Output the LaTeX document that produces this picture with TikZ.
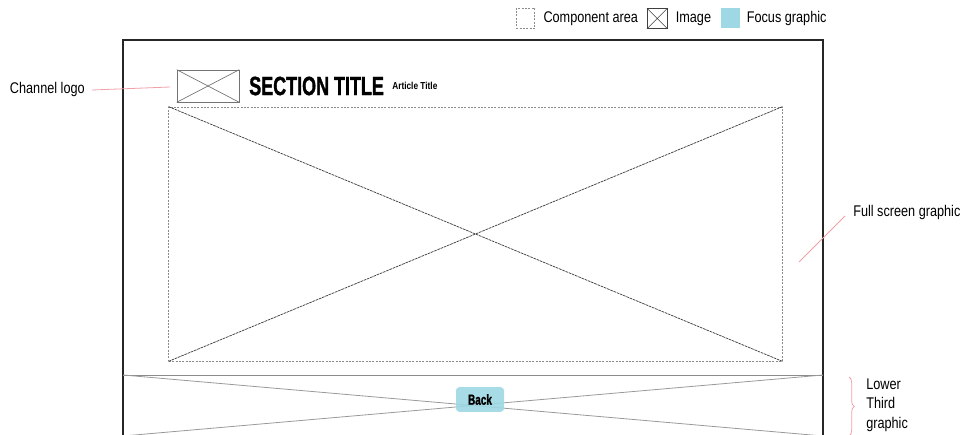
\documentclass[tikz,border=0pt]{standalone}
\usepackage{fontspec}
\setmainfont{Liberation Sans}
\newfontfamily\condfont{Liberation Sans}[FakeStretch=0.82]
\newfontfamily\heavyfont{Liberation Sans}[FakeStretch=0.68, BoldFeatures={FakeBold=1.2}]
\usetikzlibrary{positioning,calc,decorations.pathreplacing}
\definecolor{focuscyan}{HTML}{9DD8E4}
\definecolor{calloutred}{HTML}{F0A0A8}

\begin{document}
\begin{tikzpicture}[
    x=0.75pt, y=-0.75pt,
    lbl/.style={font=\condfont\fontsize{11.6}{13}\selectfont, inner sep=0pt, anchor=west},
    imgbox/.style={draw=black!55, line width=0.5pt, inner sep=0pt},
    comparea/.style={draw=black!45, dash pattern=on 1.5pt off 1pt, line width=0.6pt, inner sep=0pt},
    callout/.style={draw=calloutred, line width=0.6pt},
    focus/.style={fill=focuscyan, rounded corners=2.5pt, inner sep=0pt, font=\heavyfont\bfseries\fontsize{11}{12}\selectfont}
]
    \useasboundingbox (0,0) rectangle (964,435);

    % legend
    \node[comparea, minimum width=14pt, minimum height=15pt] (leg_comp) at (525.5,18.5) {};
    \node[lbl, right=6pt of leg_comp] (leg_comp_txt) {Component area};
    \node[imgbox, draw=black!75, minimum width=15pt, minimum height=15pt, right=6.5pt of leg_comp_txt] (leg_img) {};
    \draw[black!75, line width=0.5pt] (leg_img.north west) -- (leg_img.south east) (leg_img.south west) -- (leg_img.north east);
    \node[lbl, right=6pt of leg_img] (leg_img_txt) {Image};
    \node[fill=focuscyan, minimum width=14pt, minimum height=15pt, inner sep=0pt, right=7pt of leg_img_txt] (leg_focus) {};
    \node[lbl, right=5pt of leg_focus] (leg_focus_txt) {Focus graphic};

    % screen frame
    \draw[black!85, line width=1.5pt] (123,436) -- (123,40) -- (823,40) -- (823,436);

    % header
    \node[imgbox, minimum width=46.5pt, minimum height=24pt] (logo) at (208,86) {};
    \draw[black!55, line width=0.5pt] (logo.north west) -- (logo.south east) (logo.south west) -- (logo.north east);
    \node[font=\heavyfont\bfseries\fontsize{19.8}{21}\selectfont, inner sep=0pt, anchor=west] (sec_title) at (249,86) {SECTION TITLE};
    \node[font=\condfont\bfseries\fontsize{7.6}{8}\selectfont, inner sep=0pt, anchor=west] (art_title) at (392,86) {Article Title};

    % full screen graphic
    \node[comparea, minimum width=460pt, minimum height=190.5pt] (fullimg) at (475.5,234) {};
    \draw[black!75, dash pattern=on 2pt off 0.6pt, line width=0.55pt] (fullimg.north west) -- (fullimg.south east) (fullimg.south west) -- (fullimg.north east);

    % lower third
    \coordinate (lt_nw) at (123,375);
    \coordinate (lt_ne) at (823,375);
    \coordinate (lt_sw) at (123,436);
    \coordinate (lt_se) at (823,436);
    \draw[black!45, line width=0.6pt] (lt_nw) -- (lt_ne);
    \draw[black!40, line width=0.6pt] (lt_nw) -- (lt_se) (lt_sw) -- (lt_ne);
    \node[focus, minimum width=36pt, minimum height=18.5pt, opacity=0.9, text opacity=1] (back) at (480,399.5) {Back};

    % callouts
    \node[lbl, anchor=east] (logo_lbl) at (85,90) {Channel logo};
    \coordinate (logo_pt) at (170,87);
    \draw[callout] (logo_lbl.east) ++(7,0) -- (logo_pt);

    \node[lbl] (full_lbl) at (853,213) {Full screen graphic};
    \coordinate (full_pt) at (799,262);
    \draw[callout] (full_lbl.west) ++(-8,3) -- (full_pt);

    \node[lbl, align=left, font=\condfont\fontsize{11.6}{14.5}\selectfont] (lt_lbl) at (866,405) {Lower\\Third\\graphic};
    \draw[callout, decorate, decoration={brace, amplitude=4pt}] (849,377) -- (849,436);
\end{tikzpicture}
\end{document}
